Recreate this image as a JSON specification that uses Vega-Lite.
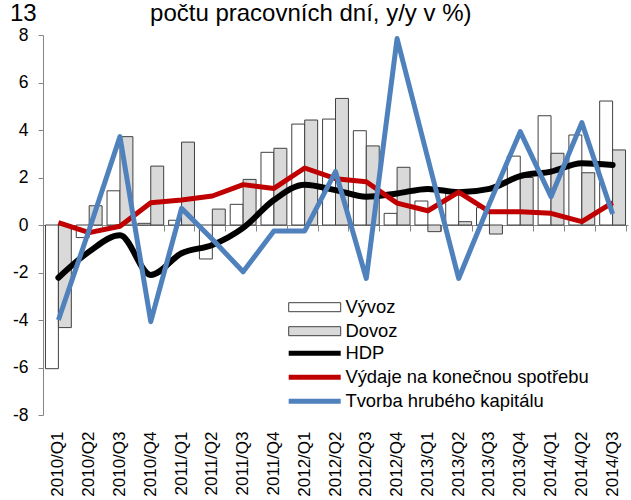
{
  "$schema": "https://vega.github.io/schema/vega-lite/v6.json",
  "width": 585,
  "height": 380,
  "autosize": {"type": "none"},
  "padding": {"left": 43, "top": 35, "right": 3, "bottom": 85},
  "background": "white",
  "config": {"view": {"stroke": null}, "font": "Liberation Sans"},
  "title": {
    "text": "13\u00a0\u00a0\u00a0\u00a0\u00a0\u00a0\u00a0\u00a0\u00a0\u00a0\u00a0\u00a0\u00a0\u00a0\u00a0\u00a0\u00a0počtu pracovních dní, y/y v %)",
    "anchor": "start",
    "frame": "group",
    "baseline": "alphabetic",
    "offset": 4,
    "dy": 23,
    "dx": -33,
    "fontSize": 24,
    "fontWeight": "normal",
    "font": "Liberation Sans",
    "color": "black"
  },
  "data": {
    "values": [
      {"quarter": "2010/Q1", "series": "Vývoz", "value": -6.05},
      {"quarter": "2010/Q1", "series": "Dovoz", "value": -4.32},
      {"quarter": "2010/Q1", "series": "HDP", "value": -2.22},
      {"quarter": "2010/Q1", "series": "Výdaje na konečnou spotřebu", "value": 0.1},
      {"quarter": "2010/Q1", "series": "Tvorba hrubého kapitálu", "value": -4.0},
      {"quarter": "2010/Q2", "series": "Vývoz", "value": -0.53},
      {"quarter": "2010/Q2", "series": "Dovoz", "value": 0.81},
      {"quarter": "2010/Q2", "series": "HDP", "value": -1.12},
      {"quarter": "2010/Q2", "series": "Výdaje na konečnou spotřebu", "value": -0.32},
      {"quarter": "2010/Q2", "series": "Tvorba hrubého kapitálu", "value": -0.2},
      {"quarter": "2010/Q3", "series": "Vývoz", "value": 1.44},
      {"quarter": "2010/Q3", "series": "Dovoz", "value": 3.72},
      {"quarter": "2010/Q3", "series": "HDP", "value": -0.43},
      {"quarter": "2010/Q3", "series": "Výdaje na konečnou spotřebu", "value": -0.05},
      {"quarter": "2010/Q3", "series": "Tvorba hrubého kapitálu", "value": 3.72},
      {"quarter": "2010/Q4", "series": "Vývoz", "value": 0.07},
      {"quarter": "2010/Q4", "series": "Dovoz", "value": 2.48},
      {"quarter": "2010/Q4", "series": "HDP", "value": -2.1},
      {"quarter": "2010/Q4", "series": "Výdaje na konečnou spotřebu", "value": 0.94},
      {"quarter": "2010/Q4", "series": "Tvorba hrubého kapitálu", "value": -4.07},
      {"quarter": "2011/Q1", "series": "Vývoz", "value": 0.2},
      {"quarter": "2011/Q1", "series": "Dovoz", "value": 3.49},
      {"quarter": "2011/Q1", "series": "HDP", "value": -1.19},
      {"quarter": "2011/Q1", "series": "Výdaje na konečnou spotřebu", "value": 1.05},
      {"quarter": "2011/Q1", "series": "Tvorba hrubého kapitálu", "value": 0.7},
      {"quarter": "2011/Q2", "series": "Vývoz", "value": -1.43},
      {"quarter": "2011/Q2", "series": "Dovoz", "value": 0.67},
      {"quarter": "2011/Q2", "series": "HDP", "value": -0.84},
      {"quarter": "2011/Q2", "series": "Výdaje na konečnou spotřebu", "value": 1.22},
      {"quarter": "2011/Q2", "series": "Tvorba hrubého kapitálu", "value": -0.6},
      {"quarter": "2011/Q3", "series": "Vývoz", "value": 0.87},
      {"quarter": "2011/Q3", "series": "Dovoz", "value": 1.92},
      {"quarter": "2011/Q3", "series": "HDP", "value": -0.12},
      {"quarter": "2011/Q3", "series": "Výdaje na konečnou spotřebu", "value": 1.7},
      {"quarter": "2011/Q3", "series": "Tvorba hrubého kapitálu", "value": -1.97},
      {"quarter": "2011/Q4", "series": "Vývoz", "value": 3.06},
      {"quarter": "2011/Q4", "series": "Dovoz", "value": 3.23},
      {"quarter": "2011/Q4", "series": "HDP", "value": 1.05},
      {"quarter": "2011/Q4", "series": "Výdaje na konečnou spotřebu", "value": 1.54},
      {"quarter": "2011/Q4", "series": "Tvorba hrubého kapitálu", "value": -0.25},
      {"quarter": "2012/Q1", "series": "Vývoz", "value": 4.25},
      {"quarter": "2012/Q1", "series": "Dovoz", "value": 4.42},
      {"quarter": "2012/Q1", "series": "HDP", "value": 1.7},
      {"quarter": "2012/Q1", "series": "Výdaje na konečnou spotřebu", "value": 2.4},
      {"quarter": "2012/Q1", "series": "Tvorba hrubého kapitálu", "value": -0.25},
      {"quarter": "2012/Q2", "series": "Vývoz", "value": 4.46},
      {"quarter": "2012/Q2", "series": "Dovoz", "value": 5.33},
      {"quarter": "2012/Q2", "series": "HDP", "value": 1.47},
      {"quarter": "2012/Q2", "series": "Výdaje na konečnou spotřebu", "value": 1.95},
      {"quarter": "2012/Q2", "series": "Tvorba hrubého kapitálu", "value": 2.25},
      {"quarter": "2012/Q3", "series": "Vývoz", "value": 3.97},
      {"quarter": "2012/Q3", "series": "Dovoz", "value": 3.33},
      {"quarter": "2012/Q3", "series": "HDP", "value": 1.19},
      {"quarter": "2012/Q3", "series": "Výdaje na konečnou spotřebu", "value": 1.82},
      {"quarter": "2012/Q3", "series": "Tvorba hrubého kapitálu", "value": -2.25},
      {"quarter": "2012/Q4", "series": "Vývoz", "value": 0.49},
      {"quarter": "2012/Q4", "series": "Dovoz", "value": 2.43},
      {"quarter": "2012/Q4", "series": "HDP", "value": 1.33},
      {"quarter": "2012/Q4", "series": "Výdaje na konečnou spotřebu", "value": 0.92},
      {"quarter": "2012/Q4", "series": "Tvorba hrubého kapitálu", "value": 7.85},
      {"quarter": "2013/Q1", "series": "Vývoz", "value": 1.01},
      {"quarter": "2013/Q1", "series": "Dovoz", "value": -0.28},
      {"quarter": "2013/Q1", "series": "HDP", "value": 1.52},
      {"quarter": "2013/Q1", "series": "Výdaje na konečnou spotřebu", "value": 0.6},
      {"quarter": "2013/Q1", "series": "Tvorba hrubého kapitálu", "value": 2.8},
      {"quarter": "2013/Q2", "series": "Vývoz", "value": 1.33},
      {"quarter": "2013/Q2", "series": "Dovoz", "value": 0.14},
      {"quarter": "2013/Q2", "series": "HDP", "value": 1.38},
      {"quarter": "2013/Q2", "series": "Výdaje na konečnou spotřebu", "value": 1.38},
      {"quarter": "2013/Q2", "series": "Tvorba hrubého kapitálu", "value": -2.25},
      {"quarter": "2013/Q3", "series": "Vývoz", "value": 0.73},
      {"quarter": "2013/Q3", "series": "Dovoz", "value": -0.38},
      {"quarter": "2013/Q3", "series": "HDP", "value": 1.52},
      {"quarter": "2013/Q3", "series": "Výdaje na konečnou spotřebu", "value": 0.56},
      {"quarter": "2013/Q3", "series": "Tvorba hrubého kapitálu", "value": 0.9},
      {"quarter": "2013/Q4", "series": "Vývoz", "value": 2.9},
      {"quarter": "2013/Q4", "series": "Dovoz", "value": 2.0},
      {"quarter": "2013/Q4", "series": "HDP", "value": 2.06},
      {"quarter": "2013/Q4", "series": "Výdaje na konečnou spotřebu", "value": 0.56},
      {"quarter": "2013/Q4", "series": "Tvorba hrubého kapitálu", "value": 3.93},
      {"quarter": "2014/Q1", "series": "Vývoz", "value": 4.6},
      {"quarter": "2014/Q1", "series": "Dovoz", "value": 3.02},
      {"quarter": "2014/Q1", "series": "HDP", "value": 2.25},
      {"quarter": "2014/Q1", "series": "Výdaje na konečnou spotřebu", "value": 0.49},
      {"quarter": "2014/Q1", "series": "Tvorba hrubého kapitálu", "value": 1.19},
      {"quarter": "2014/Q2", "series": "Vývoz", "value": 3.79},
      {"quarter": "2014/Q2", "series": "Dovoz", "value": 2.2},
      {"quarter": "2014/Q2", "series": "HDP", "value": 2.6},
      {"quarter": "2014/Q2", "series": "Výdaje na konečnou spotřebu", "value": 0.14},
      {"quarter": "2014/Q2", "series": "Tvorba hrubého kapitálu", "value": 4.31},
      {"quarter": "2014/Q3", "series": "Vývoz", "value": 5.22},
      {"quarter": "2014/Q3", "series": "Dovoz", "value": 3.16},
      {"quarter": "2014/Q3", "series": "HDP", "value": 2.53},
      {"quarter": "2014/Q3", "series": "Výdaje na konečnou spotřebu", "value": 0.94},
      {"quarter": "2014/Q3", "series": "Tvorba hrubého kapitálu", "value": 0.46}
    ]
  },
  "layer": [
    {
      "transform": [{"filter": {"field": "series", "oneOf": ["Vývoz", "Dovoz"]}}],
      "mark": {"type": "bar", "stroke": "#404040", "strokeWidth": 1, "opacity": 1},
      "encoding": {
        "x": {
          "field": "quarter", "type": "nominal", "sort": null,
          "scale": {"paddingInner": 0.16, "paddingOuter": 0.08},
          "axis": {"orient": "bottom", "offset": -190, "labels": false, "domain": true, "domainColor": "#868686", "domainWidth": 1, "ticks": true, "tickBand": "extent", "tickColor": "#868686", "tickSize": 6, "title": null, "grid": false}
        },
        "xOffset": {"field": "series", "type": "nominal", "sort": ["Vývoz", "Dovoz"], "scale": {"paddingInner": 0, "paddingOuter": 0}},
        "y": {
          "field": "value", "type": "quantitative",
          "scale": {"domain": [-8, 8], "nice": false},
          "axis": {"values": [-8, -6, -4, -2, 0, 2, 4, 6, 8], "grid": false, "title": null, "domainColor": "#868686", "tickColor": "#868686", "tickSize": 5, "labelFontSize": 17.5, "labelColor": "black", "labelPadding": 10, "labelFont": "Liberation Sans", "labelExpr": "datum.value"}
        },
        "fill": {
          "field": "series", "type": "nominal",
          "scale": {"domain": ["Vývoz", "Dovoz"], "range": ["white", "#d9d9d9"]},
          "legend": {
            "title": null, "orient": "none", "legendX": 262.5, "legendY": 263, "direction": "vertical",
            "labelFontSize": 18.4, "labelColor": "black", "labelFont": "Liberation Sans",
            "symbolSize": 81, "labelOffset": 21.5, "rowPadding": 5, "padding": 0,
            "symbolType": "M-5.78,-1H5.78V1H-5.78Z", "symbolStrokeColor": "#404040", "symbolStrokeWidth": 1, "symbolOpacity": 1, "labelLimit": 400
          }
        }
      }
    },
    {
      "transform": [{"filter": {"field": "series", "equal": "HDP"}}],
      "mark": {"type": "line", "strokeWidth": 6, "interpolate": "monotone", "strokeCap": "round"},
      "encoding": {
        "x": {
          "field": "quarter", "type": "nominal", "sort": null,
          "axis": {"orient": "bottom", "labelAngle": -90, "domain": false, "ticks": false, "tickSize": 0, "labelPadding": 16, "labelFontSize": 17, "labelColor": "black", "labelFont": "Liberation Sans", "title": null, "labelOverlap": false, "grid": false}
        },
        "y": {"field": "value", "type": "quantitative"},
        "stroke": {
          "field": "series", "type": "nominal",
          "scale": {"domain": ["HDP", "Výdaje na konečnou spotřebu", "Tvorba hrubého kapitálu"], "range": ["black", "#c00000", "#4f81bd"]},
          "legend": {
            "title": null, "orient": "none", "legendX": 262.5, "legendY": 309, "direction": "vertical",
            "labelFontSize": 18.4, "labelColor": "black", "labelFont": "Liberation Sans",
            "symbolSize": 81, "labelOffset": 21.5, "rowPadding": 3, "padding": 0,
            "symbolType": "M-5.78,0H5.78", "symbolStrokeWidth": 5, "symbolOpacity": 1, "labelLimit": 400
          }
        }
      }
    },
    {
      "transform": [{"filter": {"field": "series", "equal": "Výdaje na konečnou spotřebu"}}],
      "mark": {"type": "line", "strokeWidth": 5, "strokeJoin": "round"},
      "encoding": {
        "x": {"field": "quarter", "type": "nominal", "sort": null, "axis": null},
        "y": {"field": "value", "type": "quantitative"},
        "stroke": {
          "field": "series", "type": "nominal",
          "legend": {
            "title": null, "orient": "none", "legendX": 262.5, "legendY": 309, "direction": "vertical",
            "labelFontSize": 18.4, "labelColor": "black", "labelFont": "Liberation Sans",
            "symbolSize": 81, "labelOffset": 21.5, "rowPadding": 3, "padding": 0,
            "symbolType": "M-5.78,0H5.78", "symbolStrokeWidth": 5, "symbolOpacity": 1, "labelLimit": 400
          }
        }
      }
    },
    {
      "transform": [{"filter": {"field": "series", "equal": "Tvorba hrubého kapitálu"}}],
      "mark": {"type": "line", "strokeWidth": 5, "strokeJoin": "round"},
      "encoding": {
        "x": {"field": "quarter", "type": "nominal", "sort": null, "axis": null},
        "y": {"field": "value", "type": "quantitative"},
        "stroke": {
          "field": "series", "type": "nominal",
          "legend": {
            "title": null, "orient": "none", "legendX": 262.5, "legendY": 309, "direction": "vertical",
            "labelFontSize": 18.4, "labelColor": "black", "labelFont": "Liberation Sans",
            "symbolSize": 81, "labelOffset": 21.5, "rowPadding": 3, "padding": 0,
            "symbolType": "M-5.78,0H5.78", "symbolStrokeWidth": 5, "symbolOpacity": 1, "labelLimit": 400
          }
        }
      }
    }
  ],
  "resolve": {"axis": {"x": "independent"}}
}
